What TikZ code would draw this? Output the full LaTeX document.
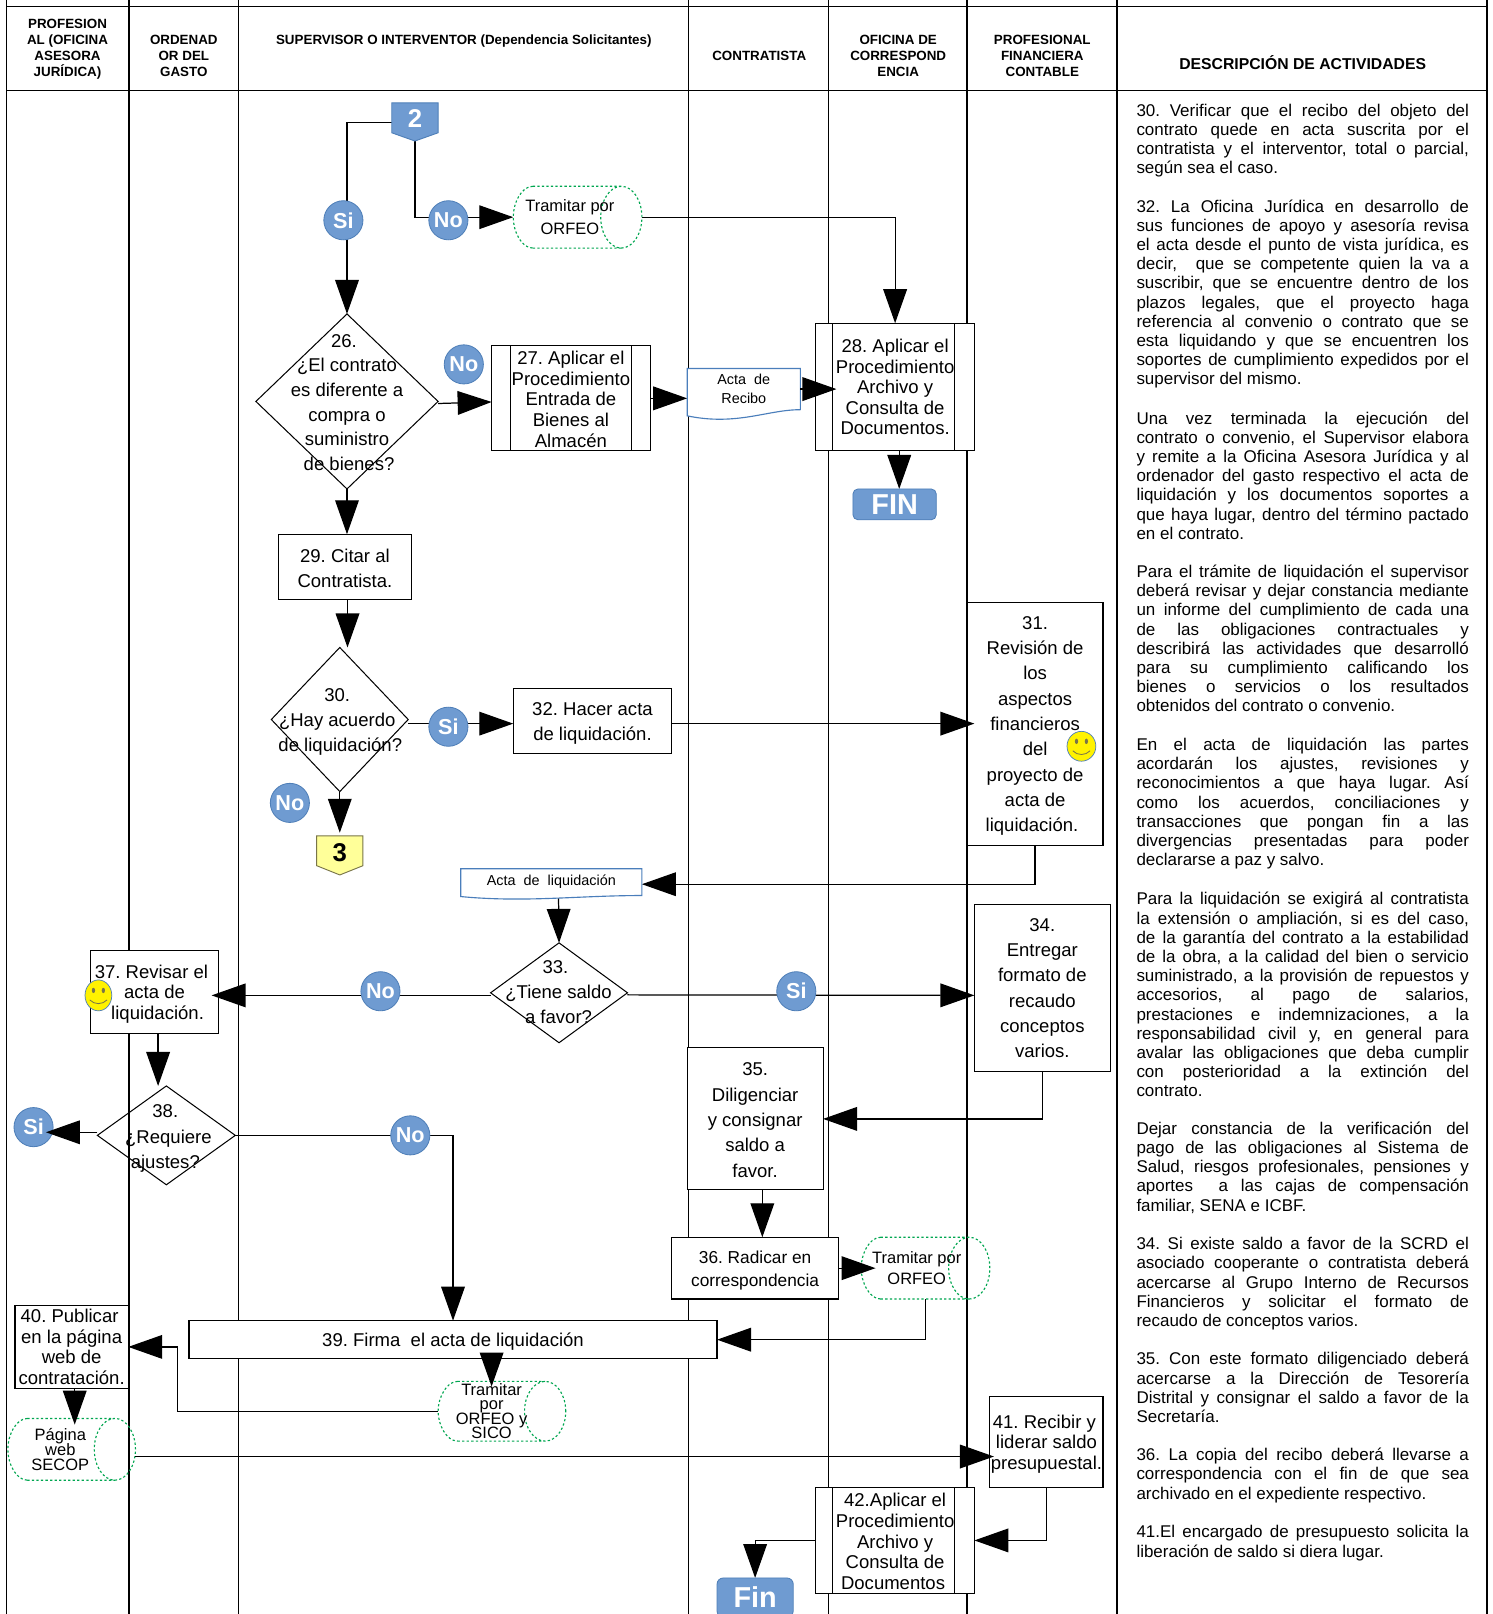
\documentclass[tikz,border=0pt]{standalone}
\usepackage{fontspec}
\setmainfont{Liberation Sans}
\usetikzlibrary{arrows.meta,calc,shapes.geometric}
\AtBeginDocument{\frenchspacing}
\definecolor{cblue}{HTML}{6F9BD1}
\definecolor{cblued}{HTML}{4F7FB8}
\definecolor{docblue}{HTML}{4A7EBB}
\definecolor{dotgreen}{HTML}{00A650}
\definecolor{pale}{HTML}{FFFF99}
\pgfdeclarelayer{lanes}\pgfdeclarelayer{conn}\pgfdeclarelayer{top}
\pgfsetlayers{lanes,conn,main,top}
\tikzset{
 lane/.style={draw=black,line width=0.6pt},
 conn/.style={draw=black,line width=0.6pt},
 arr/.style={conn,-{Triangle[length=16.5pt,width=11.5pt]}},
 bx/.style={draw=black,fill=white,line width=0.55pt,inner sep=0pt,outer sep=0pt,align=center},
 txt/.style={inner sep=0pt,outer sep=0pt,align=center},
 hd/.style={txt,font={\bfseries\fontsize{6.5}{7.7}\selectfont}},
 badge/.style={circle,fill=cblue,draw=cblued,line width=0.4pt,minimum size=19pt,inner sep=0pt,outer sep=0pt,text=white,font={\bfseries\fontsize{10.5}{12}\selectfont}},
 dia/.style={diamond,draw=black,line width=0.5pt,inner sep=0pt,outer sep=0pt},
 cylp/.style={draw=dotgreen,line width=0.55pt,dash pattern=on 1.1pt off 1.1pt},
 docp/.style={draw=docblue,line width=0.55pt,fill=white},
 desc/.style={inner sep=0pt,outer sep=0pt,anchor=north west,text width=161.5pt,align=justify,font={\fontsize{8.25}{9.33}\selectfont\hyphenpenalty=10000\tolerance=10000\hbadness=10000\emergencystretch=20pt}},
 smile/.style={ellipse,fill=yellow,draw=cblued,line width=0.35pt,inner sep=0pt,outer sep=0pt},
}
\newcommand\dn[1]{\rule{0pt}{#1pt}}
\newcommand\lft[1]{\hspace*{#1pt}}
% box: name x1 y1 x2 y2 baselineskip text
\newcommand\rbox[7]{\node[bx,minimum width={(#4-#2)*0.5pt},minimum height={(#5-#3)*0.5pt},font={\fontsize{9}{#6}\selectfont}] (#1) at ({(#2+#4)/2},{(#3+#5)/2}) {#7};}
% inner bars of predefined process: name left-offset right-offset (in pt)
\newcommand\bars[3]{\draw[lane] ([xshift=#2pt]#1.north west) -- ([xshift=#2pt]#1.south west) ([xshift=-#3pt]#1.north east) -- ([xshift=-#3pt]#1.south east);}
% diamond: name left top right bottom
\newcommand\dshape[5]{\node[dia,minimum width={(#4-#2)*0.5pt},minimum height={(#5-#3)*0.5pt}] (#1) at ({(#2+#4)/2},{(#3+#5)/2}) {};}
% cylinder: name x1 y1 x2 y2
\newcommand\cyl[5]{%
 \node[inner sep=0pt,outer sep=0pt,minimum width={(#4-#2)*0.5pt},minimum height={(#5-#3)*0.5pt}] (#1) at ({(#2+#4)/2},{(#3+#5)/2}) {};
 \pgfmathsetmacro\cya{#2+19}\pgfmathsetmacro\cyb{#4-20}\pgfmathsetmacro\cym{(#3+#5)/2}\pgfmathsetmacro\cyr{(#5-#3)/4}
 \draw[cylp] (\cya,#3) -- (\cyb,#3) (\cya,#5) -- (\cyb,#5)
   (\cyb,\cym) ellipse [x radius=10pt,y radius=\cyr pt]
   (\cya,#3) .. controls (#2+8,#3) and (#2,#3+16) .. (#2,\cym) .. controls (#2,#5-16) and (#2+8,#5) .. (\cya,#5);
}
% off-page connector: name x1 y1 x2 y2 shoulder fill stroke textcolor text
\newcommand\offp[9]{%
 \draw[fill=#7,draw=#8,line width=0.45pt] (#2,#3) -- (#4,#3) -- (#4,#6) -- ({(#2+#4)/2},#5) -- (#2,#6) -- cycle;
 \node[inner sep=0pt,outer sep=0pt,minimum width={(#4-#2)*0.5pt},minimum height={(#5-#3)*0.5pt},text=#9,font={\bfseries\fontsize{12.5}{14}\selectfont}] (#1) at ({(#2+#4)/2},{(#3+#5)/2-3}) {\pgfkeysvalueof{/tikz/offlabel}};
}
\pgfkeyssetvalue{/tikz/offlabel}{}
\newcommand\smiley[4]{%
 \node[smile,minimum width=#3pt,minimum height=#4pt] (#1) at (#2) {};
 \fill[black!60!yellow] ([xshift=-2.4pt,yshift=2.4pt]#1.center) ellipse [x radius=.8pt,y radius=1.3pt]
   ([xshift=2.4pt,yshift=2.4pt]#1.center) ellipse [x radius=.8pt,y radius=1.3pt];
 \draw[black!60!yellow,line width=.4pt] ([xshift=-4.2pt,yshift=-2.2pt]#1.center) .. controls ([xshift=-2pt,yshift=-4.6pt]#1.center) and ([xshift=2pt,yshift=-4.6pt]#1.center) .. ([xshift=4.2pt,yshift=-2.2pt]#1.center);
}
\newcommand\nl{\linebreak}
\newcommand\dpar[3]{\node[desc] (#1) at (1103.5,#2-7) {\rule{0pt}{6.5pt}#3\par};}
\begin{document}
\begin{tikzpicture}[x=0.5pt,y=-0.5pt]
\useasboundingbox (-0.6,0) rectangle (1449.4,1568);
\begin{pgfonlayer}{lanes}
 \fill[white] (-0.6,0) rectangle (1449.4,1568);
 \foreach \lx in {5.7,124.8,231.4,667.9,804.6,938.9,1084.6,1444} {\draw[lane] (\lx,0) -- (\lx,1568);}
 \draw[lane] (5.7,6) -- (1444,6) (5.7,88) -- (1444,88);
\end{pgfonlayer}
% headers
\node[hd] (h1) at (65,48) {PROFESION\\AL (OFICINA\\ASESORA\\JURÍDICA)};
\node[hd] (h2) at (178,54) {ORDENAD\\OR DEL\\GASTO};
\node[hd] (h3) at (450,40) {SUPERVISOR O INTERVENTOR (Dependencia Solicitantes)};
\node[hd] (h4) at (737,54) {CONTRATISTA};
\node[hd] (h5) at (872,54) {OFICINA DE\\CORRESPOND\\ENCIA};
\node[hd] (h6) at (1012,54) {PROFESIONAL\\FINANCIERA\\CONTABLE};
\node[txt,font={\bfseries\fontsize{7.65}{9}\selectfont}] (h7) at (1265,60.5) {DESCRIPCIÓN DE ACTIVIDADES};
% connectors 2,3
\pgfkeyssetvalue{/tikz/offlabel}{2}
\offp{c2}{380}{100}{425}{137}{129}{cblue}{cblued}{white}
\pgfkeyssetvalue{/tikz/offlabel}{3}
\offp{c3}{307}{812}{352}{850}{841}{pale}{black!60!yellow}{black}
% boxes
\rbox{b27}{477}{336}{631}{438}{10.1}{\dn{7.5}27. Aplicar el\\Procedimiento\\Entrada de\\Bienes al\\Almacén}
\bars{b27}{9}{9}
\rbox{b28}{792}{314}{946}{438}{10}{28. Aplicar el\\Procedimiento\\Archivo y\lft{2}\\Consulta de\lft{2}\\Documentos.}
\bars{b28}{8}{9.5}
\rbox{b29}{270}{519}{399}{582}{12}{\dn{8}29. Citar al\\Contratista.}
\rbox{b32}{498}{669}{652}{732}{12}{\dn{8.5}32. Hacer acta\\de liquidación.}
\rbox{b31}{939}{585}{1071}{821}{12.3}{\dn{8.5}31.\\Revisión de\\los\\aspectos\\financieros\\del\\proyecto de\\acta de\\liquidación.\lft{3}}
\rbox{b34}{946}{879}{1078}{1041}{12.3}{34.\\Entregar\\formato de\\recaudo\\conceptos\\varios.}
\rbox{b35}{667}{1018}{799}{1156}{12.3}{\dn{7.5}35.\\Diligenciar\\y consignar\\saldo a\\favor.}
\node[bx,minimum width=81pt,minimum height=30pt,font={\fontsize{8.4}{11.5}\selectfont}] (b36) at (733,1232) {\dn{8.5}36. Radicar en\\correspondencia};
\rbox{b37}{87}{923}{212}{1004}{10}{\dn{8.5}37. Revisar el\lft{3}\\acta de\\\lft{3}liquidación.}
\rbox{b39}{183}{1283}{696}{1320}{12}{\dn{8.5}39. Firma\ \ el acta de liquidación}
\rbox{b40}{14}{1268}{124}{1349}{10.15}{40. Publicar\lft{2}\\en la página\\web de\lft{2}\\contratación.}
\rbox{b41}{961}{1357}{1071}{1445}{10}{\dn{8.5}41. Recibir y\lft{2}\\liderar saldo\\presupuestal.}
\rbox{b42}{792}{1445}{946}{1548}{10}{\dn{7.5}42.Aplicar el\\Procedimiento\\Archivo y\lft{2}\\Consulta de\lft{2}\\Documentos\lft{2}}
\bars{b42}{8}{9.5}
% diamonds
\dshape{d26}{248}{305}{425}{475}
\node[txt,font={\fontsize{9}{12}\selectfont}] (t26) at (336.5,391) {26.\lft{3}\\¿El contrato\\es diferente a\\compra o\\suministro\\\lft{2}de bienes?};
\dshape{d30}{263}{629}{396}{769}
\node[txt,font={\fontsize{9}{12.1}\selectfont}] (t30) at (327,701.5) {30.\\¿Hay acuerdo\\\lft{3}de liquidación?};
\dshape{d33}{476}{916}{609}{1013}
\node[txt,font={\fontsize{9}{12.2}\selectfont}] (t33) at (542,964) {33.\lft{3}\\¿Tiene saldo\\a favor?};
\dshape{d38}{94}{1055}{228}{1151}
\node[txt,font={\fontsize{9}{12.2}\selectfont}] (t38) at (163,1106) {38.\lft{3}\\¿Requiere\\ajustes?\lft{3}};
% cylinders
\cyl{o1}{498}{181}{623}{241}
\node[txt,font={\fontsize{8}{11}\selectfont}] (o1t) at (553,211) {Tramitar por\\ORFEO};
\cyl{o2}{836}{1202}{961}{1262}
\node[txt,font={\fontsize{8}{10.5}\selectfont}] (o2t) at (890,1232) {Tramitar por\\ORFEO};
\cyl{o3}{425}{1342}{549}{1400}
\node[txt,font={\fontsize{8}{7}\selectfont\lineskiplimit=-100pt}] (o3t) at (477,1371) {Tramitar\\por\\ORFEO y\\SICO};
\cyl{o4}{7}{1378}{131}{1438}
\node[txt,font={\fontsize{8}{7.4}\selectfont\lineskiplimit=-100pt}] (o4t) at (58,1408) {Página\\web\\SECOP};
% documents
\draw[docp] (667,358) -- (777,358) -- (777,398) .. controls (745,398) and (715,414) .. (667,404) -- cycle;
\node[txt,minimum width=55pt,minimum height=20pt,font={\fontsize{7}{9}\selectfont}] (actaR) at (722,378) {Acta\ \ de\\Recibo};
\draw[docp] (447,844) -- (623,844) -- (623,870) .. controls (560,870) and (510,877) .. (447,871) -- cycle;
\node[txt,minimum width=88pt,minimum height=13.5pt,font={\fontsize{7}{9}\selectfont}] (actaL) at (535,857) {Acta\ \ de\ \ liquidación};
% terminals
\node[draw=cblued,fill=cblue,rounded corners=2.5pt,line width=.4pt,minimum width=40.5pt,minimum height=15pt,inner sep=0pt,outer sep=0pt,text=white,font={\bfseries\fontsize{14}{16}\selectfont}] (fin1) at (868.5,490) {FIN};
\node[draw=cblued,fill=cblue,rounded corners=3pt,line width=.4pt,minimum width=37pt,minimum height=19pt,inner sep=0pt,outer sep=0pt,text=white,font={\bfseries\fontsize{14}{16}\selectfont}] (fin2) at (733,1552) {Fin};
% badges
\node[badge] (s1) at (333,214) {Si};
\node[badge] (n1) at (435,214) {No};
\node[badge] (n2) at (450,354) {No};
\node[badge] (s2) at (435,706) {Si};
\node[badge] (n3) at (281,780) {No};
\node[badge] (n4) at (369,963) {No};
\node[badge] (s3) at (773,963) {Si};
\node[badge] (s4) at (32,1095) {Si};
\node[badge] (n5) at (398,1103) {No};
% smileys
\smiley{sm1}{1050,725}{14}{14.5}
\smiley{sm2}{95,967}{13}{15}
% connectors below nodes
\begin{pgfonlayer}{conn}
 \draw[arr] (c2.west |- 0,119) -| (d26.north);
 \draw[arr] (c2.south) ++(0,3) |- (o1.west);
 \draw[arr] (o1.east) -| (b28.north -| 869,0);
 \draw[arr] ($(d26.east)+(0,2)$) -- ($(b27.west)+(0,3.5)$);
 \draw[arr] (b27.east) -- (b27.east -| actaR.west);
 \draw[arr] ($(b28.south)+(4,0)$) -- ($(fin1.north)+(4.5,0)$);
 \draw[arr] (d26.south) -- (d26.south |- b29.north);
 \draw[arr] ($(b29.south)+(2.5,0)$) -- ($(d30.north)+(7.5,0)$);
 \draw[arr] (d30.south) -- (c3.north);
 \draw[arr] ($(d30.east)+(0,4)$) -- ($(b32.west)+(0,2.5)$);
 \draw[arr] (b31.south) |- ([yshift=-1pt]actaL.east);
 \draw[arr] (actaL.south) ++(7,0) -- (d33.north);
 \draw[arr] ($(d33.east)+(0,2)$) -- ($(b34.west)+(0,7)$);
 \draw[arr] (b34.south) |- (b35.east);
 \draw[arr] ($(b35.south)+(7,0)$) -- ($(b36.north)+(7,0)$);
 \draw[arr] (o2.south) ++(0,0) |- (b39.east);
 \draw[arr] ($(b37.south)+(3.5,0)$) -- ($(d38.north)+(-8,0)$);
 \draw[arr] (d38.east) -| (b39.north);
 \draw[arr] (o3.west) -| ($(b40.east)+(48,0)$) -- (b40.east);
 \draw[arr] (b41.south) |- (b42.east);
 \draw[arr] (b42.west) -| (fin2.north);
 \draw[conn] ($(d33.west)+(0,2.5)$) -- ($(n4.east)+(0,4)$);
\end{pgfonlayer}
% arrows that lie over nodes
\begin{pgfonlayer}{top}
 \draw[arr] (actaR.east) -- ++(17.5pt,0);
 \draw[arr] ($(b32.east)+(0,2.5)$) -- ($(b31.west)+(7,0)$);
 \draw[arr] ($(n4.west)+(0,4)$) -- ($(b37.east)+(-7,3.5)$);
 \draw[arr] (b36.east) -- ++(18pt,0);
 \draw[arr] ($(d38.west)+(0,-3)$) -- ($(s4.east)+(-7,5)$);
 \draw[arr] ($(o3.north)+(-10,-26)$) -- ($(o3.north)+(-10,5)$);
 \draw[arr] ($(b40.south)+(3,0)$) -- ($(o4.north)+(3,6)$);
 \draw[arr] ($(o4.east)+(0,7)$) -- ($(b41.west)+(4,14)$);
\end{pgfonlayer}
% description
\dpar{p1}{107}{30. Verificar que el recibo del objeto del\nl contrato quede en acta suscrita por el\nl contratista y el interventor, total o parcial,\nl según sea el caso.}
\dpar{p2}{200}{32. La Oficina Jurídica en desarrollo de\nl sus funciones de apoyo y asesoría revisa\nl el acta desde el punto de vista jurídica, es\nl decir,\ \ que se competente quien la va a\nl suscribir, que se encuentre dentro de los\nl plazos legales, que el proyecto haga\nl referencia al convenio o contrato que se\nl esta liquidando y que se encuentren los\nl soportes de cumplimiento expedidos por el\nl supervisor del mismo.}
\dpar{p3}{406}{Una vez terminada la ejecución del\nl contrato o convenio, el Supervisor elabora\nl y remite a la Oficina Asesora Jurídica y al\nl ordenador del gasto respectivo el acta de\nl liquidación y los documentos soportes a\nl que haya lugar, dentro del término pactado\nl en el contrato.}
\dpar{p4}{555}{Para el trámite de liquidación el supervisor\nl deberá revisar y dejar constancia mediante\nl un informe del cumplimiento de cada una\nl de las obligaciones contractuales y\nl describirá las actividades que desarrolló\nl para su cumplimiento calificando los\nl bienes o servicios o los resultados\nl obtenidos del contrato o convenio.}
\dpar{p5}{723}{En el acta de liquidación las partes\nl acordarán los ajustes, revisiones y\nl reconocimientos a que haya lugar. Así\nl como los acuerdos, conciliaciones y\nl transacciones que pongan fin a las\nl divergencias presentadas para poder\nl declararse a paz y salvo.}
\dpar{p6}{873}{Para la liquidación se exigirá al contratista\nl la extensión o ampliación, si es del caso,\nl de la garantía del contrato a la estabilidad\nl de la obra, a la calidad del bien o servicio\nl suministrado, a la provisión de repuestos y\nl accesorios, al pago de salarios,\nl prestaciones e indemnizaciones, a la\nl responsabilidad civil y, en general para\nl avalar las obligaciones que deba cumplir\nl con posterioridad a la extinción del\nl contrato.}
\dpar{p7}{1096}{Dejar constancia de la verificación del\nl pago de las obligaciones al Sistema de\nl Salud, riesgos profesionales, pensiones y\nl aportes\ \ a las cajas de compensación\nl familiar, SENA e ICBF.}
\dpar{p8}{1208}{34. Si existe saldo a favor de la SCRD el\nl asociado cooperante o contratista deberá\nl acercarse al Grupo Interno de Recursos\nl Financieros y solicitar el formato de\nl recaudo de conceptos varios.}
\dpar{p9}{1320}{35. Con este formato diligenciado deberá\nl acercarse a la Dirección de Tesorería\nl Distrital y consignar el saldo a favor de la\nl Secretaría.}
\dpar{p10}{1413}{36. La copia del recibo deberá llevarse a\nl correspondencia con el fin de que sea\nl archivado en el expediente respectivo.}
\dpar{p11}{1488}{41.El encargado de presupuesto solicita la\nl liberación de saldo si diera lugar.}
\end{tikzpicture}
\end{document}
